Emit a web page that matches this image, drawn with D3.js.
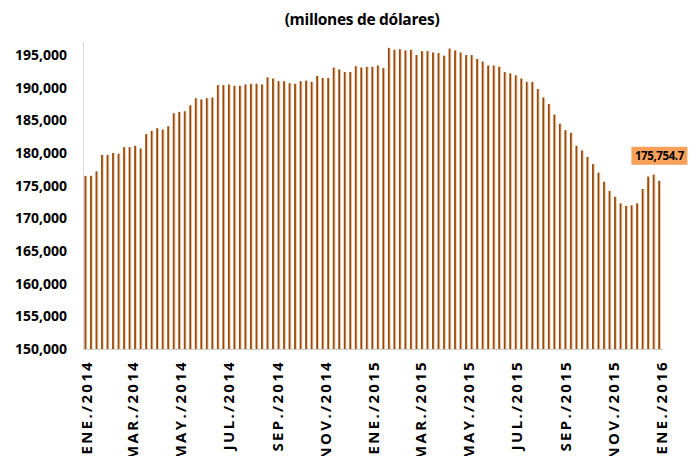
<!DOCTYPE html>
<html>
<head>
<meta charset="utf-8">
<script src="https://cdn.jsdelivr.net/npm/d3@7"></script>
<style>
  body { margin: 0; background: #fff; }
  svg { display: block; font-family: "Open Sans", sans-serif; }
</style>
</head>
<body>
<svg id="chart" width="691" height="456"></svg>
<script>
// weekly reserves, millions of dollars
var reserves = [
  176500, 176500, 177200, 179700, 179700, 180000, 179900, 180900, 180900, 181100,
  180700, 182900, 183400, 183800, 183600, 184100, 186100, 186300, 186400, 187300,
  188400, 188200, 188400, 188500, 190400, 190400, 190500, 190300, 190300, 190500,
  190600, 190600, 190500, 191600, 191400, 191000, 191000, 190700, 190600, 191000,
  191100, 190900, 191800, 191500, 191500, 193100, 192800, 192400, 192400, 193300,
  193100, 193200, 193200, 193400, 193000, 196100, 195800, 195900, 195700, 195800,
  195000, 195600, 195600, 195400, 195300, 194900, 196000, 195700, 195400, 195000,
  195000, 194400, 194000, 193400, 193400, 193200, 192400, 192200, 191900, 191400,
  190900, 190900, 189800, 188500, 187500, 185900, 184500, 183500, 183100, 181100,
  180400, 179400, 178300, 177000, 175600, 174200, 173300, 172300, 171900, 172000,
  172300, 174500, 176400, 176700, 175754.7
];
var firstWeek = new Date(2014, 0, 3);
var lastTick = new Date(2016, 0, 3);
var monthNames = ['ENE.', 'FEB.', 'MAR.', 'ABR.', 'MAY.', 'JUN.', 'JUL.', 'AGO.', 'SEP.', 'OCT.', 'NOV.', 'DIC.'];
var yTicks = d3.range(150000, 195001, 5000);
var titleText = '(millones de dólares)';

var svg = d3.select('#chart');

var weeks = reserves.map(function(v, i) { return d3.timeDay.offset(firstWeek, 7 * i); });
var xTicks = d3.range(0, 13).map(function(i) { return d3.timeMonth.offset(firstWeek, 2 * i); });

var x = d3.scaleTime().domain([firstWeek, lastTick]).range([85.7, 661]);
var y = d3.scaleLinear().domain([150000, 197000]).range([349, 42]);

svg.append('text')
  .attr('x', 362).attr('y', 25)
  .attr('text-anchor', 'middle')
  .attr('font-size', 15.5).attr('font-weight', 700)
  .attr('letter-spacing', -0.3)
  .text(titleText);

// axis lines
svg.append('line')
  .attr('x1', 83.5).attr('x2', 83.5).attr('y1', 42).attr('y2', 349)
  .attr('stroke', '#d9d9d9');
svg.append('line')
  .attr('x1', 83).attr('x2', 663).attr('y1', 349.5).attr('y2', 349.5)
  .attr('stroke', '#cfcfcf');

var yAxis = svg.append('g')
  .attr('transform', 'translate(83,0)')
  .call(d3.axisLeft(y).tickValues(yTicks).tickFormat(d3.format(',')).tickSize(0).tickPadding(16));
yAxis.select('.domain').remove();
yAxis.selectAll('text')
  .attr('font-size', 14).attr('font-weight', 700).attr('fill', '#000')
  .attr('font-family', '"Open Sans", sans-serif');

var xAxis = svg.append('g')
  .attr('transform', 'translate(0,349)')
  .call(d3.axisBottom(x).tickValues(xTicks).tickSize(0)
    .tickFormat(function(d) { return monthNames[d.getMonth()] + '/' + d.getFullYear(); }));
xAxis.select('.domain').remove();
xAxis.selectAll('text')
  .attr('font-size', 15).attr('font-weight', 700).attr('fill', '#000')
  .attr('font-family', '"Open Sans", sans-serif')
  .attr('letter-spacing', 2.3)
  .attr('text-anchor', 'end')
  .attr('transform', 'rotate(-90)')
  .attr('x', -11).attr('y', 0).attr('dy', '0.36em');

// bars: dark body with light right edge
var bars = svg.append('g').selectAll('g')
  .data(reserves)
  .enter().append('g');

bars.append('rect')
  .attr('x', function(d, i) { return x(weeks[i]) + 0.5; })
  .attr('y', function(d) { return y(d); })
  .attr('width', 1.1)
  .attr('height', function(d) { return y(150000) - y(d); })
  .attr('fill', '#efcfb0');

bars.append('rect')
  .attr('x', function(d, i) { return x(weeks[i]) - 1.2; })
  .attr('y', function(d) { return y(d); })
  .attr('width', 1.8)
  .attr('height', function(d) { return y(150000) - y(d); })
  .attr('fill', '#994a0a');

// label on last bar
var lastIdx = reserves.length - 1;
var lx = x(weeks[lastIdx]);
var ly = y(reserves[lastIdx]) - 25;
var lab = svg.append('g').attr('transform', 'translate(' + lx + ',' + ly + ')');
lab.append('rect')
  .attr('x', -28).attr('y', -9).attr('width', 56).attr('height', 18)
  .attr('fill', '#f9a05a');
lab.append('text')
  .attr('text-anchor', 'middle').attr('dy', '0.35em')
  .attr('font-size', 11.5).attr('font-weight', 700).attr('fill', '#000')
  .attr('letter-spacing', -0.4)
  .text(d3.format(',.1f')(reserves[lastIdx]));
</script>
</body>
</html>
